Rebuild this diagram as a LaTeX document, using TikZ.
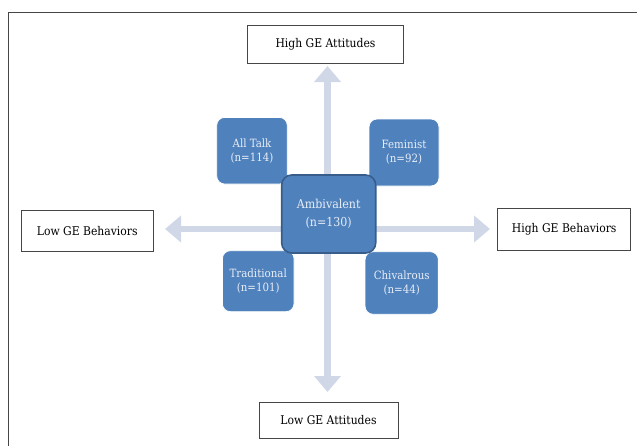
\documentclass[tikz,border=0pt]{standalone}
\usepackage{fontspec}
\setmainfont{DejaVu Serif Condensed}
\usetikzlibrary{arrows.meta}
\definecolor{boxblue}{RGB}{79,129,189}
\definecolor{boxedge}{RGB}{56,93,138}
\definecolor{axiscol}{RGB}{208,216,232}
\definecolor{txtlight}{RGB}{232,238,246}
\definecolor{framecol}{RGB}{70,70,70}
\tikzset{
  labelbox/.style={draw=framecol, line width=0.9pt, fill=white, inner sep=0pt,
    font=\fontsize{12}{14}\selectfont, text=black},
  catbox/.style={draw=white, line width=0.8pt, fill=boxblue, rounded corners=8pt,
    inner sep=0pt, align=center, text=txtlight, font=\fontsize{11.4}{14}\selectfont},
  centerbox/.style={draw=boxedge, line width=1.6pt, fill=boxblue, rounded corners=10pt,
    inner sep=0pt, align=center, text=txtlight, font=\fontsize{12.3}{18}\selectfont},
  axis/.style={draw=axiscol, line width=6.5pt,
    arrows={Triangle[length=16pt, width=26pt, fill=axiscol]-Triangle[length=16pt, width=26pt, fill=axiscol]}}
}
\begin{document}
\begin{tikzpicture}[x=1pt,y=-1pt]
\useasboundingbox (0,0) rectangle (637,445);
% frame
\coordinate (fbl) at (8.3,446);
\coordinate (ftl) at (8.3,12.7);
\coordinate (ftr) at (638,12.7);
\draw[framecol, line width=1pt] (fbl) -- (ftl) -- (ftr);
% axis end points
\coordinate (up) at (327.5,66);
\coordinate (down) at (327.5,392);
\coordinate (left) at (165,229);
\coordinate (right) at (490,229);
\draw[axis] (up) -- (down);
\draw[axis] (left) -- (right);
% outer labels
\node[labelbox, minimum width=155.6pt, minimum height=38.3pt] (hga) at (325.5,44.2) {High GE Attitudes};
\node[labelbox, minimum width=132.3pt, minimum height=41.7pt] (lgb) at (87.2,230.8) {Low GE Behaviors};
\node[labelbox, minimum width=133pt, minimum height=41.7pt] (hgb) at (564.2,229.2) {High GE Behaviors};
\node[labelbox, minimum width=139pt, minimum height=35.6pt] (lga) at (328.5,420.5) {Low GE Attitudes};
% category boxes
\node[catbox, minimum width=70.6pt, minimum height=66.7pt] (alltalk) at (252,150.7) {All Talk\\(n=114)};
\node[catbox, minimum width=70pt, minimum height=67pt] (feminist) at (404,152.5) {Feminist\\(n=92)};
\node[catbox, minimum width=71.7pt, minimum height=61pt] (traditional) at (258.2,281.2) {Traditional\\(n=101)};
\node[catbox, minimum width=73.3pt, minimum height=62.6pt] (chivalrous) at (401.7,283) {Chivalrous\\(n=44)};
\node[centerbox, minimum width=94pt, minimum height=78pt] (ambivalent) at (328.7,214) {Ambivalent\\(n=130)};
\end{tikzpicture}
\end{document}
